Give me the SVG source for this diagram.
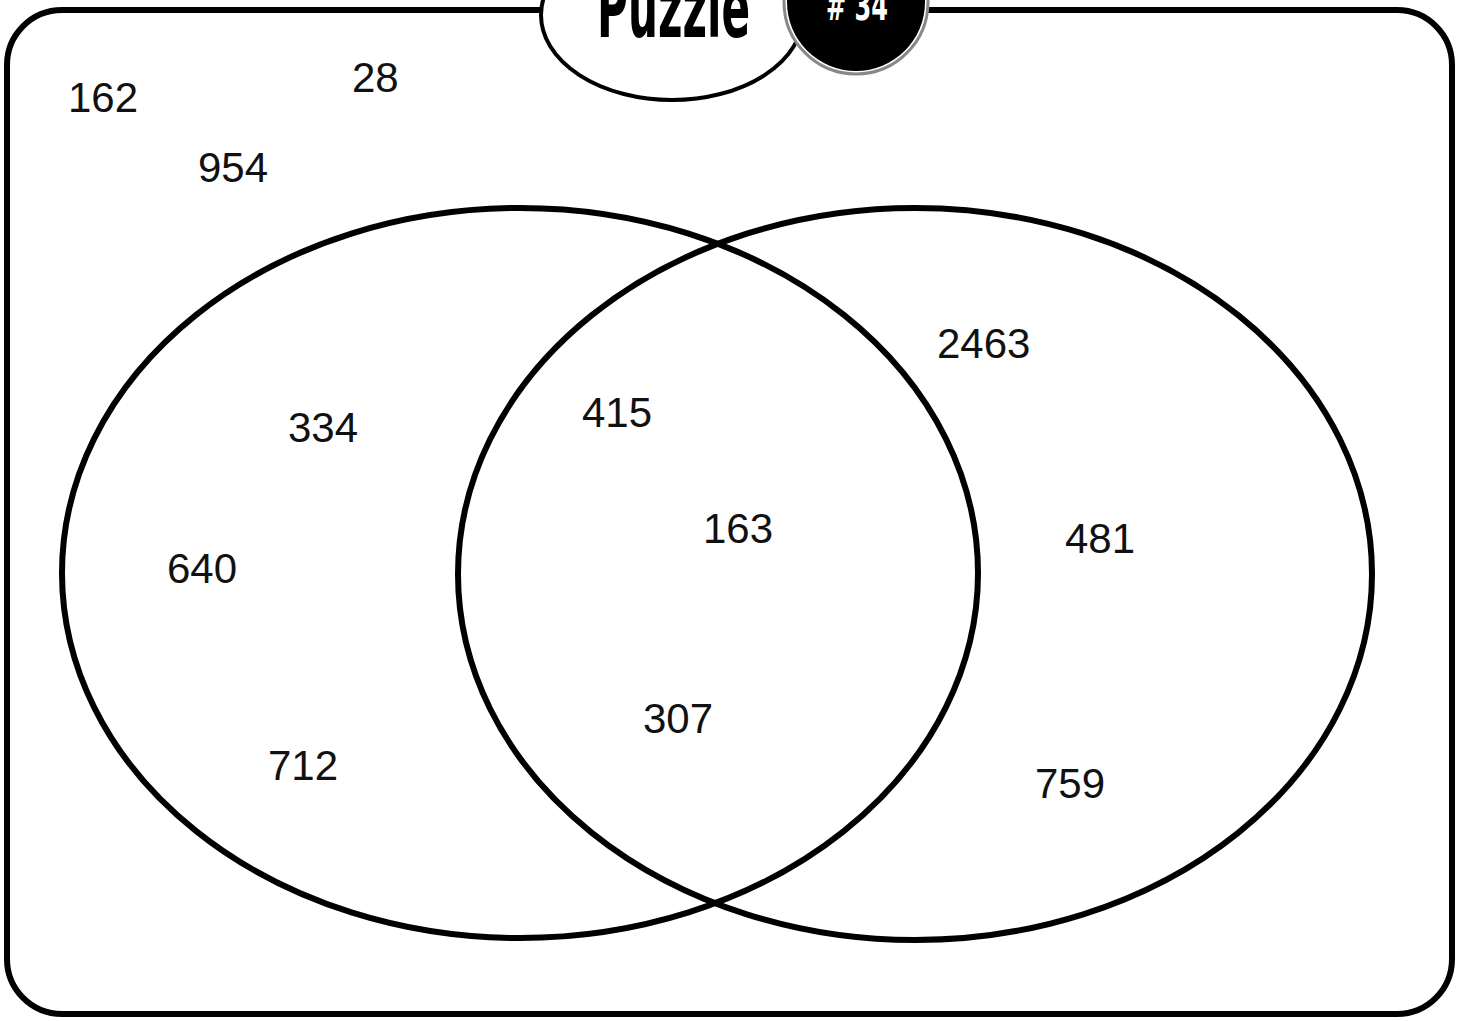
<svg xmlns="http://www.w3.org/2000/svg" width="1463" height="1021" viewBox="0 0 1463 1021">
<style>
.set{fill:none;stroke:#000;stroke-width:6}
.num{font-family:"Liberation Sans",Arial,sans-serif;font-size:42px;fill:#111}
.title{font-family:"DejaVu Sans Condensed","DejaVu Sans",sans-serif;font-weight:bold;fill:#000}
</style>
<rect width="1463" height="1021" fill="#fff"/>
<g id="frame">
<rect x="7" y="10" width="1445" height="1004" rx="55" ry="55" fill="none" stroke="#000" stroke-width="6"/>
</g>
<g id="title">
<ellipse cx="672" cy="15" rx="131" ry="85" fill="#fff" stroke="#000" stroke-width="4"/>
<text class="title" x="597" y="37" font-size="84" textLength="153" lengthAdjust="spacingAndGlyphs">Puzzle</text>
</g>
<g id="badge">
<circle cx="856" cy="2" r="72" fill="#fff" stroke="#888" stroke-width="3"/>
<circle cx="856" cy="2" r="69" fill="#000"/>
<text class="title" x="826" y="20" font-size="40" fill="#fff" style="fill:#fff" textLength="62" lengthAdjust="spacingAndGlyphs"># 34</text>
</g>
<g id="set-left">
<ellipse class="set" cx="520" cy="573" rx="458" ry="365"/>
</g>
<g id="set-right">
<ellipse class="set" cx="915" cy="574" rx="457" ry="366"/>
</g>
<g id="labels">
<text class="num" x="68" y="112">162</text>
<text class="num" x="352" y="92">28</text>
<text class="num" x="198" y="182">954</text>
<text class="num" x="288" y="442">334</text>
<text class="num" x="167" y="583">640</text>
<text class="num" x="268" y="780">712</text>
<text class="num" x="582" y="427">415</text>
<text class="num" x="703" y="543">163</text>
<text class="num" x="643" y="733">307</text>
<text class="num" x="937" y="358">2463</text>
<text class="num" x="1065" y="553">481</text>
<text class="num" x="1035" y="798">759</text>
</g>
</svg>
